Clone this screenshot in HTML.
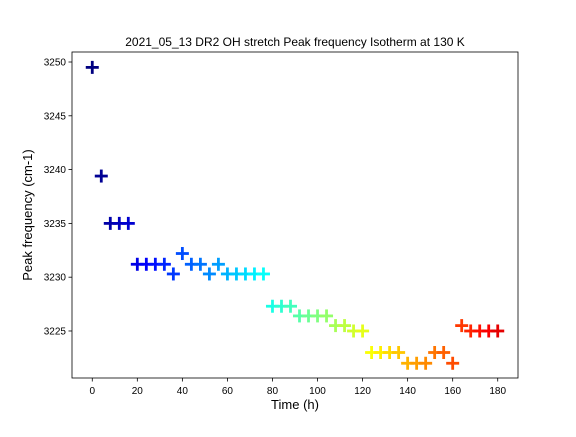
<!DOCTYPE html>
<html><head><meta charset="utf-8"><style>
body{margin:0;background:#fff;}
svg{font-family:"Liberation Sans","DejaVu Sans",sans-serif;}
</style></head><body>
<svg id="chart" width="576" height="432" viewBox="0 0 576 432">
<rect x="0" y="0" width="576" height="432" fill="#fff"/>
<text x="295" y="46" text-anchor="middle" font-size="12">2021_05_13 DR2 OH stretch Peak frequency Isotherm at 130 K</text>
<g id="xt"></g>
<g id="yt"></g>
<g id="marks"></g>
<rect x="72" y="52" width="446" height="326" fill="none" stroke="#000" stroke-width="0.8"/>
<text x="295" y="409" text-anchor="middle" font-size="13">Time (h)</text>
<text x="32" y="215" text-anchor="middle" font-size="13" transform="rotate(-90 32 215)">Peak frequency (cm-1)</text>
</svg>
<script>
const times=[0,4,8,12,16,20,24,28,32,36,40,44,48,52,56,60,64,68,72,76,80,84,88,92,96,100,104,108,112,116,120,124,128,132,136,140,144,148,152,156,160,164,168,172,176,180];
const freqs=[3249.5,3239.4,3235.0,3235.0,3235.0,3231.2,3231.2,3231.2,3231.2,3230.3,3232.2,3231.2,3231.2,3230.3,3231.2,3230.3,3230.3,3230.3,3230.3,3230.3,3227.3,3227.3,3227.3,3226.4,3226.4,3226.4,3226.4,3225.5,3225.5,3225.0,3225.0,3223.0,3223.0,3223.0,3223.0,3222.0,3222.0,3222.0,3223.0,3223.0,3222.0,3225.5,3225.0,3225.0,3225.0,3225.0];
const xTicks=[0,20,40,60,80,100,120,140,160,180];
const yTicks=[3225,3230,3235,3240,3245,3250];
const NS="http://www.w3.org/2000/svg";
const X0=72,X1=518,Y0=52,Y1=378;
const xmin=-9,xmax=189,ymin=3220.63,ymax=3250.93;
function sx(v){return X0+(v-xmin)/(xmax-xmin)*(X1-X0);}
function sy(v){return Y1-(v-ymin)/(ymax-ymin)*(Y1-Y0);}
function jet(t){
 const c=x=>Math.max(0,Math.min(1,x));
 const r=c(1.5-Math.abs(4*t-3)),g=c(1.5-Math.abs(4*t-2)),b=c(1.5-Math.abs(4*t-1));
 return `rgb(${Math.round(r*255)},${Math.round(g*255)},${Math.round(b*255)})`;
}
function mk(tag,attrs,parent){const e=document.createElementNS(NS,tag);for(const k in attrs)e.setAttribute(k,attrs[k]);parent.appendChild(e);return e;}
const xt=document.getElementById('xt'),yt=document.getElementById('yt'),mg=document.getElementById('marks');
xTicks.forEach(v=>{
 const x=sx(v);
 const l=mk('line',{x1:x,x2:x,y1:Y1,y2:Y1+3.5,stroke:'#000','stroke-width':0.8},xt);
 
 
 const t=mk('text',{x:x,y:Y1+16,'text-anchor':'middle','font-size':10},xt);
 t.textContent=v;
 
 
});
yTicks.forEach(v=>{
 const y=sy(v);
 const l=mk('line',{x1:X0-3.5,x2:X0,y1:y,y2:y,stroke:'#000','stroke-width':0.8},yt);
 
 
 const t=mk('text',{x:X0-6,y:y+3.5,'text-anchor':'end','font-size':10},yt);
 t.textContent=v;
 
 
});
const n=times.length;
times.forEach((tv,i)=>{
 const x=sx(tv),y=sy(freqs[i]),col=jet(i/50),h=6.5;
 const g=mk('g',{stroke:col,'stroke-width':2.8},mg);
 
 
 mk('line',{x1:x-h,x2:x+h,y1:y,y2:y},g);
 mk('line',{x1:x,x2:x,y1:y-h,y2:y+h},g);
});
</script>
</body></html>
